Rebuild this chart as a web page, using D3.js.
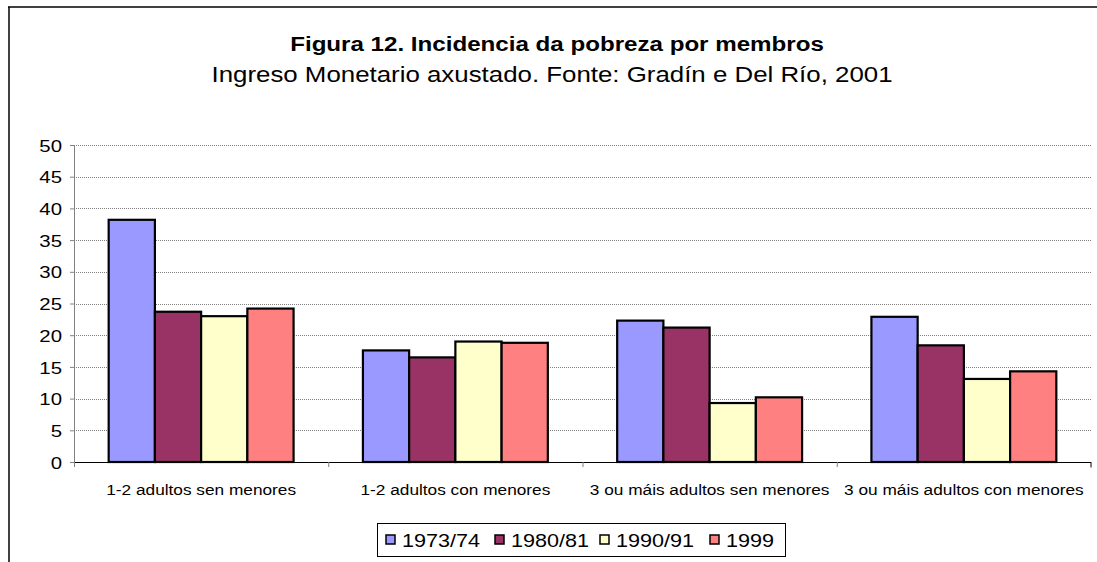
<!DOCTYPE html>
<html>
<head>
<meta charset="utf-8">
<script src="https://cdn.jsdelivr.net/npm/d3@7"></script>
<style>
  body { margin: 0; background: #fff; }
  text { font-family: Arial, "Liberation Sans", sans-serif; fill: #000; }
</style>
</head>
<body>
<div id="chart"></div>
<script>
// Chart data
const categories = ['1-2 adultos sen menores', '1-2 adultos con menores', '3 ou máis adultos sen menores', '3 ou máis adultos con menores'];
const seriesNames = ['1973/74', '1980/81', '1990/91', '1999'];
const v1973 = [38.2, 17.6, 22.3, 22.9];
const v1980 = [23.7, 16.5, 21.2, 18.4];
const v1990 = [23.0, 19.0, 9.3, 13.1];
const v1999 = [24.2, 18.8, 10.2, 14.3];
const yTicks = [0, 5, 10, 15, 20, 25, 30, 35, 40, 45, 50];
const colors = ['#9999FF', '#993366', '#FFFFCC', '#FF8080'];

const seriesValues = [v1973, v1980, v1990, v1999];

const svgWidth = 1097;
const svgHeight = 562;

// plot area limits
let margin = { top: 145, right: 6, bottom: 100, left: 74 };
let width = svgWidth - margin.left - margin.right;
let height = svgHeight - margin.top - margin.bottom;

let svg = d3.select('#chart')
  .append('svg')
  .attr('width', svgWidth)
  .attr('height', svgHeight);

// outer frame (top and left edges visible)
svg.append('line')
  .attr('x1', 8).attr('x2', svgWidth).attr('y1', 7).attr('y2', 7)
  .attr('stroke', '#404040').attr('stroke-width', 2);
svg.append('line')
  .attr('x1', 9).attr('x2', 9).attr('y1', 7).attr('y2', svgHeight)
  .attr('stroke', '#000').attr('stroke-width', 1.5);

// titles
svg.append('text')
  .attr('transform', 'translate(557, 51) scale(1.15, 1)')
  .attr('text-anchor', 'middle')
  .attr('font-size', '21px')
  .attr('font-weight', 'bold')
  .text('Figura 12. Incidencia da pobreza por membros');

svg.append('text')
  .attr('transform', 'translate(552, 82) scale(1.175, 1)')
  .attr('text-anchor', 'middle')
  .attr('font-size', '22px')
  .text('Ingreso Monetario axustado. Fonte: Gradín e Del Río, 2001');

let chartGroup = svg.append('g')
  .attr('transform', `translate(${margin.left}, ${margin.top})`);

// scales
let x0 = d3.scaleBand()
  .domain(categories)
  .range([0, width]);

let x1 = d3.scaleBand()
  .domain(seriesNames)
  .range([0, x0.bandwidth()])
  .paddingOuter(0.75)
  .paddingInner(0);

let yLinearScale = d3.scaleLinear()
  .domain([0, 50])
  .range([height, 0]);

// gridlines
chartGroup.append('g')
  .selectAll('line')
  .data(yTicks.filter(d => d > 0))
  .enter()
  .append('line')
  .attr('x1', 0)
  .attr('x2', width)
  .attr('y1', d => Math.round(yLinearScale(d)) + 0.5)
  .attr('y2', d => Math.round(yLinearScale(d)) + 0.5)
  .attr('stroke', '#808080')
  .attr('stroke-width', 1)
  .attr('stroke-dasharray', '1,1');

// y axis
let leftAxis = d3.axisLeft(yLinearScale)
  .tickValues(yTicks)
  .tickSize(4)
  .tickPadding(8);

let yAxis = chartGroup.append('g')
  .call(leftAxis);
yAxis.select('.domain').attr('stroke', '#808080');
yAxis.selectAll('.tick line').attr('stroke', '#808080');
yAxis.selectAll('.tick text')
  .attr('font-size', '17px')
  .attr('font-family', 'Arial, "Liberation Sans", sans-serif')
  .attr('transform', 'scale(1.2, 1)')
  .attr('x', -12 / 1.2)
  .attr('dy', '0.36em');

// bars
let groups = chartGroup.selectAll('.cat')
  .data(categories)
  .enter()
  .append('g')
  .attr('class', 'cat')
  .attr('transform', d => `translate(${x0(d)}, 0)`);

groups.selectAll('rect')
  .data((d, i) => seriesNames.map((s, j) => ({ s: s, v: seriesValues[j][i], c: colors[j] })))
  .enter()
  .append('rect')
  .attr('x', d => x1(d.s))
  .attr('y', d => yLinearScale(d.v))
  .attr('width', x1.bandwidth())
  .attr('height', d => height - yLinearScale(d.v))
  .attr('fill', d => d.c)
  .attr('stroke', '#000')
  .attr('stroke-width', 2.2);

// x axis
let bottomAxis = d3.axisBottom(d3.scaleLinear().domain([0, 4]).range([0, width]))
  .tickValues([0, 1, 2, 3, 4])
  .tickSize(5)
  .tickFormat('');

let xAxis = chartGroup.append('g')
  .attr('transform', `translate(0, ${height})`)
  .call(bottomAxis);
xAxis.select('.domain').attr('stroke', '#000').attr('d', `M0.5,0.5H${width}V5.5`);
xAxis.selectAll('.tick line').attr('stroke', '#808080');

// category labels
chartGroup.append('g')
  .selectAll('text')
  .data(categories)
  .enter()
  .append('text')
  .attr('transform', d => `translate(${x0(d) + x0.bandwidth() / 2}, ${height + 33}) scale(1.15, 1)`)
  .attr('text-anchor', 'middle')
  .attr('font-size', '15px')
  .text(d => d);

// legend
let legend = svg.append('g')
  .attr('transform', 'translate(377, 523)');

legend.append('rect')
  .attr('x', 0.5).attr('y', 0.5)
  .attr('width', 408).attr('height', 33)
  .attr('fill', '#fff')
  .attr('stroke', '#000')
  .attr('stroke-width', 1);

let legendX = [9, 118, 223, 333];
let items = legend.selectAll('.item')
  .data(seriesNames)
  .enter()
  .append('g')
  .attr('class', 'item')
  .attr('transform', (d, i) => `translate(${legendX[i]}, 0)`);

items.append('rect')
  .attr('x', 0).attr('y', 12)
  .attr('width', 9).attr('height', 9)
  .attr('fill', (d, i) => colors[i])
  .attr('stroke', '#000')
  .attr('stroke-width', 1.5);

items.append('text')
  .attr('transform', 'translate(16, 24) scale(1.2, 1)')
  .attr('font-size', '18px')
  .text(d => d);
</script>
</body>
</html>
